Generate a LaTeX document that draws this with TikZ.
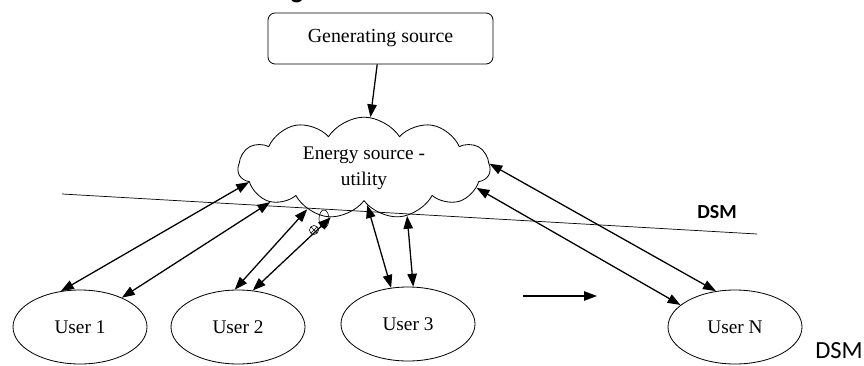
\documentclass[tikz,border=0pt]{standalone}
\usepackage{fontspec}
\setmainfont{Liberation Serif}
\newfontfamily\calfont{Carlito}
\usepackage{tikz}
\usetikzlibrary{
	shapes.geometric,
	shapes.symbols,
	arrows.meta
}

\tikzset{
	user/.style={draw,ellipse,line width=0.7pt,minimum width=4.02cm,minimum height=2.22cm,inner sep=0pt,font=\fontsize{16.5}{18}\selectfont},
	utility/.style={draw,cloud,cloud puffs=11,cloud puff arc=115,aspect=2.5,line width=0.7pt,minimum width=7.56cm,minimum height=3.05cm,inner sep=0pt,align=center,font=\fontsize{16.5}{22}\selectfont},
	srcbox/.style={draw,rounded corners=6pt,line width=0.7pt,minimum width=6.75cm,minimum height=1.53cm,font=\fontsize{17}{18}\selectfont},
	flow/.style={line width=1.1pt,-{Triangle[length=11pt,width=8pt]}},
	dbl/.style={line width=1.1pt,{Triangle[length=11pt,width=8pt]}-{Triangle[length=11pt,width=8pt]}}
}

\begin{document}
\begin{tikzpicture}[x=0.03cm,y=-0.03cm]
		\useasboundingbox (0,0) rectangle (864,366);
		\draw
			node[srcbox]  (gen)  at (380.5,38.5) {Generating source}
			node[utility] (util) at (364,168)    {Energy source -\\utility}
			node[user]    (u1)   at (80,327)     {User 1}
			node[user]    (u2)   at (238,327)    {User 2}
			node[user]    (u3)   at (408,324)    {User 3}
			node[user]    (uN)   at (735,327)    {User N}

			(gen) edge[flow] (util)
			(util.187) edge[dbl] (u1.118)
			(util.200) edge[dbl] (u1.35)
			(util.216) edge[dbl] (u2.95)
			(util.236) edge[dbl] (u2.68)
			(util.275) edge[dbl] (u3.115)
			(util.312) edge[dbl] (u3.82)
			(util.2)   edge[dbl] (uN.118)
			(util.350) edge[dbl] (uN.158)
		;
		% DSM boundary
		\coordinate (dsmL) at (62,194);
		\coordinate (dsmR) at (757,234);
		\draw[line width=0.6pt] (dsmL) -- (dsmR);
		\node[font=\calfont\bfseries\fontsize{17}{18}\selectfont] (dsm) at (717,212) {DSM};
		\node[font=\calfont\fontsize{21}{22}\selectfont] (dsmB) at (839,351) {DSM};
		% marks at the utility end
		\draw[line width=0.5pt] (324,219) ellipse (5 and 9);
		\draw[line width=0.5pt] (314,230) circle (4.5) (311,227) -- (317,233) (311,233) -- (317,227);
		% arrow between the users
		\coordinate (arrL) at (523,296);
		\coordinate (arrR) at (597,296);
		\draw[flow] (arrL) -- (arrR);
		\node[font=\calfont\bfseries\fontsize{22}{22}\selectfont,anchor=base] (gtop) at (297,-1) {g};
	\end{tikzpicture}
\end{document}
